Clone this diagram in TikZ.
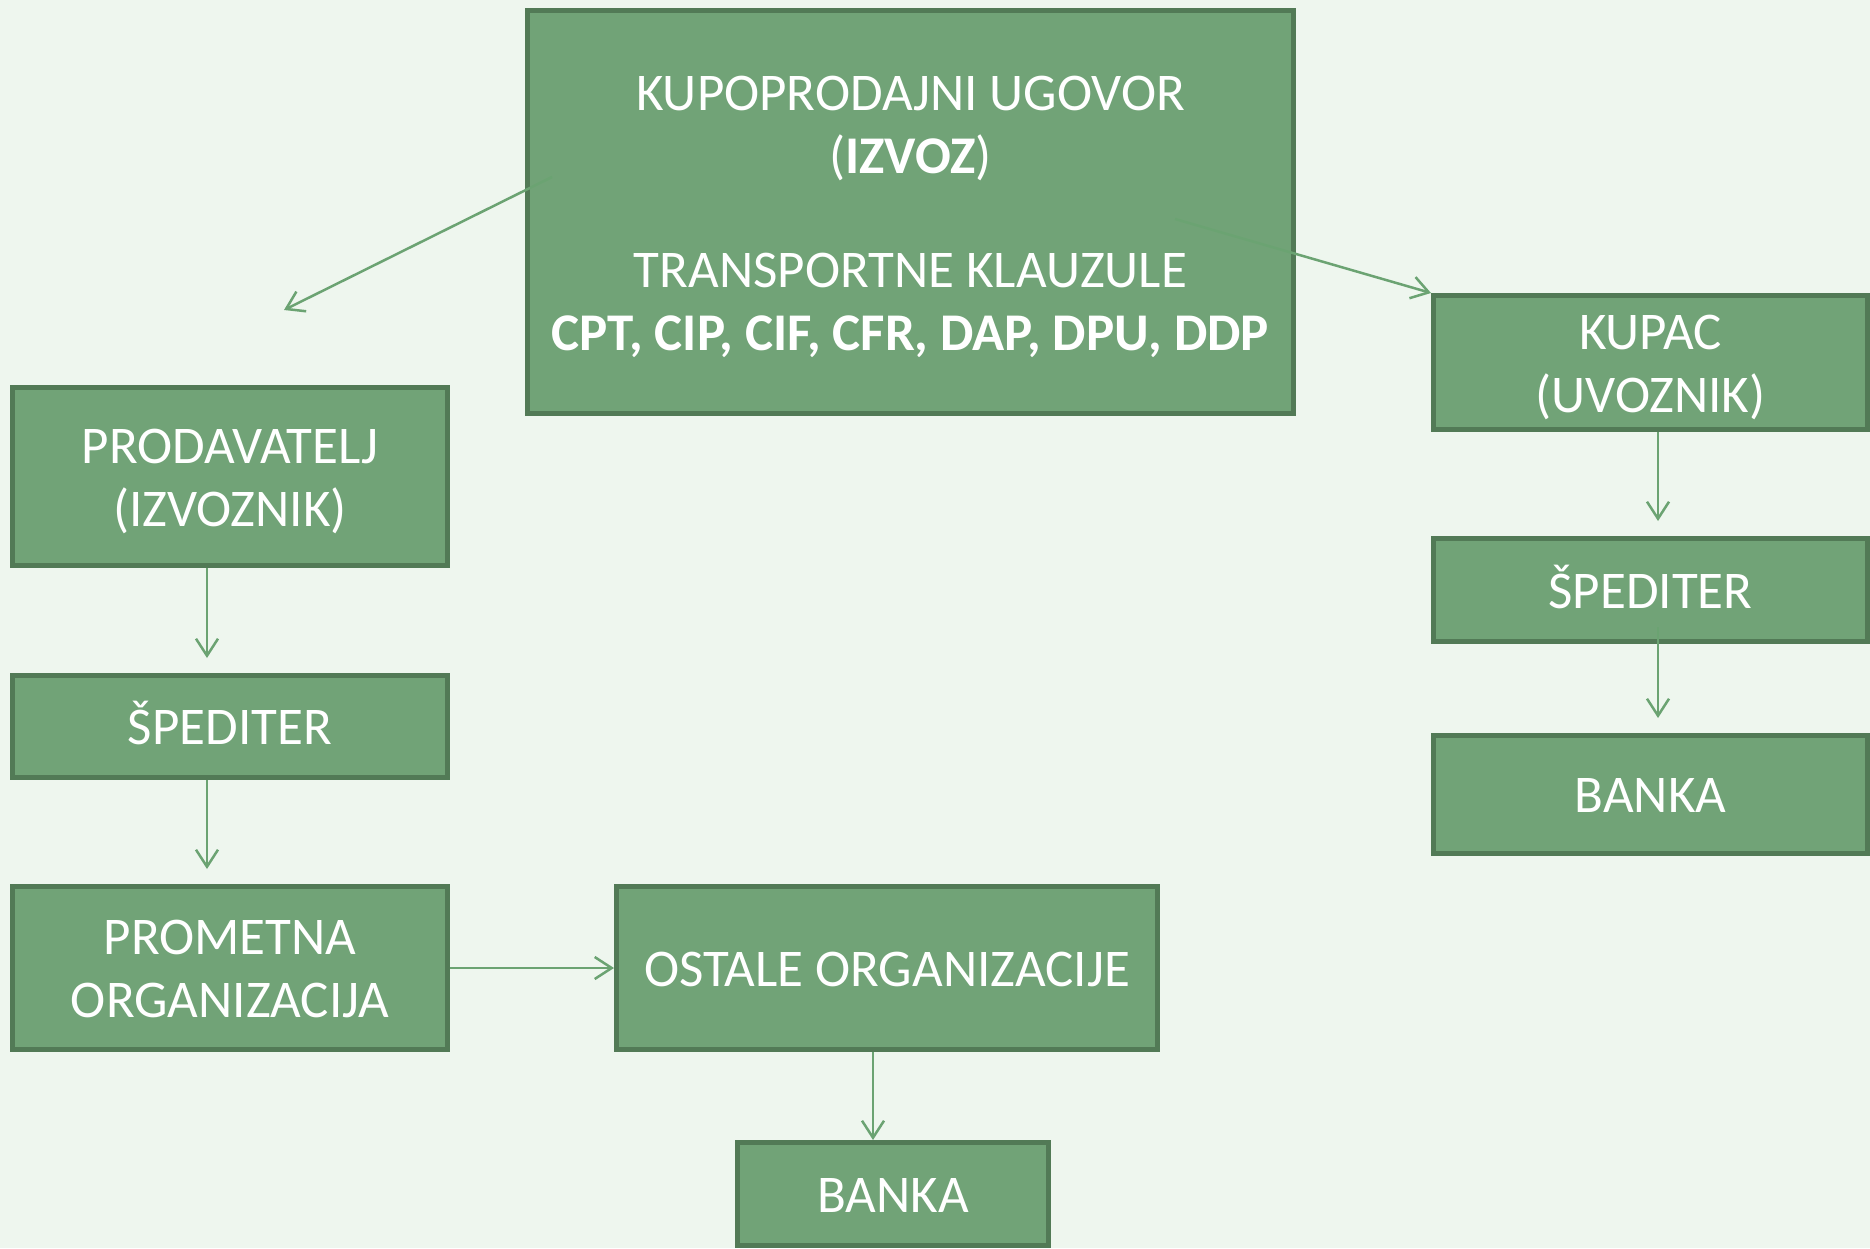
\documentclass[tikz,border=0pt]{standalone}
\usepackage{fontspec}
\setmainfont{Carlito}
\usetikzlibrary{arrows.meta}
\definecolor{bgc}{HTML}{EEF6EE}
\definecolor{boxfill}{HTML}{71A377}
\definecolor{boxline}{HTML}{527A56}
\definecolor{arrc}{HTML}{6BA372}
\newcommand\mytop{\rule{0pt}{50pt}}
\newcommand\mybot{\rule[-14pt]{0pt}{0pt}}
\begin{document}
\begin{tikzpicture}[x=1pt,y=-1pt,
  box/.style={draw=boxline, fill=boxfill, line width=5pt, inner sep=0pt,
    text=white, align=center, font=\fontsize{53}{63}\selectfont},
  conn/.style={draw=arrc, line width=2.5pt,
    -{Straight Barb[length=17pt,width=22pt,line width=2.5pt]}}]
\fill[bgc] (0,0) rectangle (1870,1248);
\useasboundingbox (0,0) rectangle (1870,1248);

\node[box, minimum width=766pt, minimum height=403pt] (top) at (910.5,212)
  {\mytop KUPOPRODAJNI UGOVOR\\(\textbf{IZVOZ})\\[51pt]TRANSPORTNE KLAUZULE\\\textbf{CPT, CIP, CIF, CFR, DAP, DPU, DDP}\mybot};
\node[box, minimum width=435pt, minimum height=178pt] (prod) at (230,476.5)
  {\mytop PRODAVATELJ\\(IZVOZNIK)\mybot};
\node[box, minimum width=435pt, minimum height=102pt] (sped1) at (230,726.5)
  {\mytop ŠPEDITER\mybot};
\node[box, minimum width=435pt, minimum height=163pt] (prom) at (230,968)
  {\mytop PROMETNA\\ORGANIZACIJA\mybot};
\node[box, minimum width=541pt, minimum height=163pt] (ostale) at (887,968)
  {\mytop OSTALE ORGANIZACIJE\mybot};
\node[box, minimum width=311pt, minimum height=103pt] (banka1) at (893,1194)
  {\mytop BANKA\mybot};
\node[box, minimum width=434pt, minimum height=134pt] (kupac) at (1650.5,362.5)
  {\mytop KUPAC\\(UVOZNIK)\mybot};
\node[box, minimum width=434pt, minimum height=103pt] (sped2) at (1650.5,590)
  {\mytop ŠPEDITER\mybot};
\node[box, minimum width=434pt, minimum height=118pt] (banka2) at (1650.5,794.5)
  {\mytop BANKA\mybot};

\coordinate (xl) at (207,0);
\coordinate (xr) at (1658,0);
\coordinate (xb) at (873,0);
\coordinate (dl) at (552,177);
\coordinate (dlend) at (284,310);
\coordinate (dr) at (1175,219);

\draw[conn] (dl) -- (dlend);
\draw[conn] (dr) -- (kupac.north west);
\draw[conn, shorten >=15pt] (prod.south -| xl) -- (sped1.north -| xl);
\draw[conn, shorten >=15pt] (sped1.south -| xl) -- (prom.north -| xl);
\draw[conn, shorten >=15pt] (kupac.south -| xr) -- (sped2.north -| xr);
\draw[conn, shorten >=15pt, shorten <=-17pt] (sped2.south -| xr) -- (banka2.north -| xr);
\draw[conn] (prom.east) -- (ostale.west);
\draw[conn] (ostale.south -| xb) -- (banka1.north -| xb);
\end{tikzpicture}
\end{document}
